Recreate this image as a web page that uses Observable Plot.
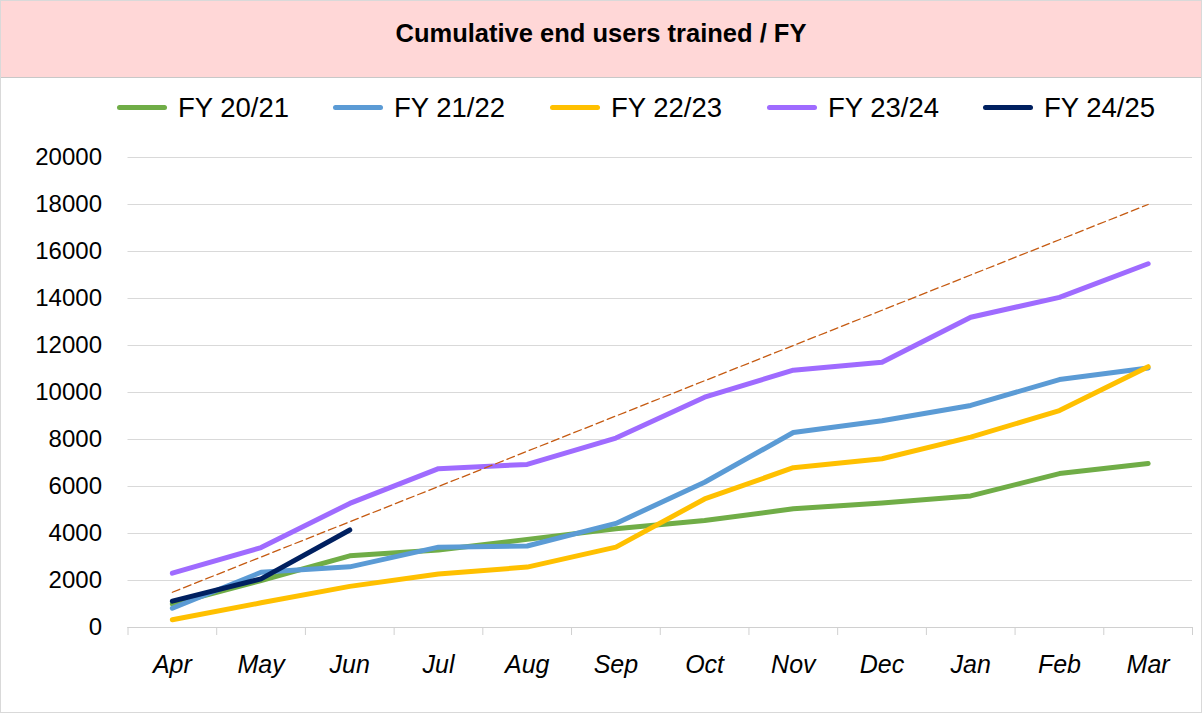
<!DOCTYPE html>
<html><head><meta charset="utf-8">
<script src="https://cdn.jsdelivr.net/npm/d3@7"></script>
<script src="https://cdn.jsdelivr.net/npm/@observablehq/plot@0.6"></script>
<style>
html,body{margin:0;padding:0;background:#fff;}
#chart{position:relative;width:1202px;height:713px;box-sizing:border-box;border:1px solid #d9d9d9;font-family:"Liberation Sans",Arial,sans-serif;overflow:hidden;background:#fff}
#title{height:76px;background:#ffd7d7;border-bottom:1px solid #c8c8c8;text-align:center;font-weight:bold;font-size:25.5px;line-height:64px;color:#000}
#legend{position:relative;height:59px}
.item{position:absolute;top:0;height:59px;display:flex;align-items:center}
.sw{width:50px;height:5px;border-radius:3px;margin-right:11px}
.lab{font-size:27.5px;color:#000;white-space:nowrap}
#plot svg{display:block}
</style></head>
<body>
<div id="chart">
  <div id="title">Cumulative end users trained / FY</div>
  <div id="legend"></div>
  <div id="plot"></div>
</div>
<script>
const months = ["Apr","May","Jun","Jul","Aug","Sep","Oct","Nov","Dec","Jan","Feb","Mar"];
const seriesNames = ["FY 20/21","FY 21/22","FY 22/23","FY 23/24","FY 24/25"];
const seriesColors = ["#70AD47","#5B9BD5","#FFC000","#9F6BFF","#002060"];
const fy2021 = [1000, 2000, 3050, 3300, 3750, 4200, 4550, 5050, 5300, 5600, 6550, 6980];
const fy2122 = [820, 2350, 2580, 3420, 3470, 4430, 6180, 8300, 8800, 9450, 10550, 11040];
const fy2223 = [330, 1050, 1750, 2280, 2570, 3420, 5470, 6800, 7180, 8100, 9230, 11100];
const fy2324 = [2310, 3400, 5280, 6760, 6940, 8060, 9800, 10950, 11290, 13200, 14050, 15480];
const fy2425 = [1120, 2070, 4150];
const target = [1500, 3000, 4500, 6000, 7500, 9000, 10500, 12000, 13500, 15000, 16500, 18000];
const yTicks = [0, 2000, 4000, 6000, 8000, 10000, 12000, 14000, 16000, 18000, 20000];
const xBoundaries = [0,1,2,3,4,5,6,7,8,9,10,11,12];

const seriesValues = [fy2021, fy2122, fy2223, fy2324, fy2425];
const rows = seriesValues.flatMap((vals, s) => vals.map((v, i) => ({series: seriesNames[s], x: i + 0.5, v})));
const targetRows = target.map((v, i) => ({x: i + 0.5, v}));
const monthPos = months.map((m, i) => i + 0.5);

// legend
const legendLefts = [116, 332, 549, 766, 982];
const legend = document.getElementById("legend");
seriesNames.forEach((n, i) => {
  const it = document.createElement("div");
  it.className = "item";
  it.style.left = legendLefts[i] + "px";
  it.innerHTML = `<div class="sw" style="background:${seriesColors[i]}"></div><span class="lab">${n}</span>`;
  legend.appendChild(it);
});

const chart = Plot.plot({
  width: 1200,
  height: 575,
  marginTop: 20,
  marginBottom: 85,
  marginLeft: 126.5,
  marginRight: 9,
  style: {fontFamily: "'Liberation Sans', Arial, sans-serif", background: "transparent", color: "#000"},
  x: {domain: [0, 12], axis: null},
  y: {domain: [0, 20000], axis: null},
  color: {domain: seriesNames, range: seriesColors},
  marks: [
    Plot.gridY(yTicks, {stroke: "#d9d9d9", strokeOpacity: 1, strokeWidth: 1}),
    Plot.axisY({ticks: yTicks, label: null, tickSize: 0, tickPadding: 26, fontSize: 24, tickFormat: d => String(d), fill: "#000"}),
    Plot.ruleY([0], {stroke: "#d0d0d0", strokeWidth: 1.2}),
    Plot.axisX({ticks: xBoundaries, label: null, tickSize: 8, tickFormat: () => "", stroke: "#d0d0d0", strokeOpacity: 1}),
    Plot.axisX({ticks: monthPos, label: null, tickSize: 0, tickPadding: 28, fontSize: 25, fontStyle: "italic", fill: "#000",
      tickFormat: d => months[Math.round(d - 0.5)]}),
    Plot.line(rows, {x: "x", y: "v", z: "series", stroke: "series", strokeWidth: 5, strokeLinecap: "round", strokeLinejoin: "round"}),
    Plot.line(targetRows, {x: "x", y: "v", stroke: "#C55A11", strokeWidth: 1.3, strokeDasharray: "8,4"})
  ]
});
document.getElementById("plot").appendChild(chart);
</script>
</body></html>
